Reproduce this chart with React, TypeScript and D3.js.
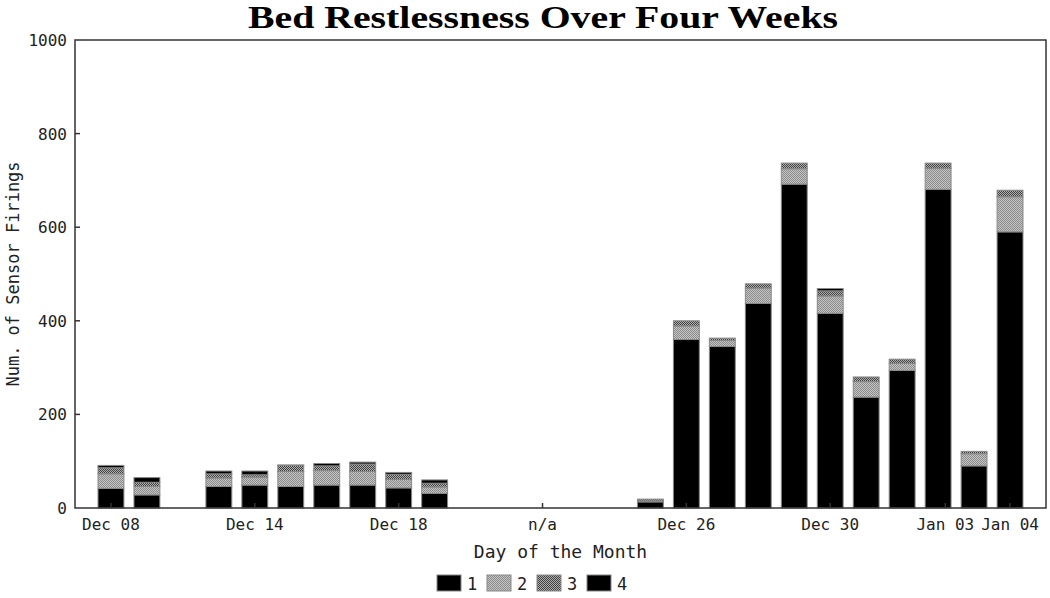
import React from "react";
import * as d3 from "d3";

const slotIndex = [0, 1, 3, 4, 5, 6, 7, 8, 9, 15, 16, 17, 18, 19, 20, 21, 22, 23, 24, 25];
const series1 = [42, 28, 46, 49, 46, 49, 49, 43, 31, 13, 360, 345, 437, 692, 416, 237, 294, 681, 90, 590];
const series2 = [31, 18, 18, 17, 32, 31, 29, 18, 14, 2, 29, 13, 33, 33, 37, 33, 15, 45, 26, 75];
const series3 = [13, 9, 9, 5, 13, 10, 16, 11, 8, 4, 11, 5, 9, 12, 11, 10, 9, 11, 5, 14];
const series4 = [5, 10, 6, 8, 1, 5, 4, 4, 7, 0, 0, 0, 0, 0, 5, 0, 0, 0, 0, 0];
const seriesNames = ["1", "2", "3", "4"];
const xTickPos = [0, 4, 8, 12, 16, 20, 23.2, 25];
const xTickLabels = ["Dec 08", "Dec 14", "Dec 18", "n/a", "Dec 26", "Dec 30", "Jan 03", "Jan 04"];
const yTicks = [0, 200, 400, 600, 800, 1000];

const W = 1050, H = 598;
const L = 75, R = 1046, T = 40, B = 508;
const fills = ["#000", "url(#p2)", "url(#p3)", "#000"];

export default function App() {
  const x = d3.scaleLinear().domain([-1, 26]).range([L, R]);
  const y = d3.scaleLinear().domain([0, 1000]).range([B, T]);
  const step = x(1) - x(0);
  const bw = step * 0.72;
  const rows = slotIndex.map((s, i) => ({ s, v: [series1[i], series2[i], series3[i], series4[i]] }));
  const stacked = d3.stack<any>().keys([0, 1, 2, 3] as any).value((d: any, k: any) => d.v[k])(rows as any);
  const mono = "'DejaVu Sans Mono', monospace";
  const axisColor = "#333";
  return (
    <svg width={W} height={H} style={{ position: "absolute", left: 0, top: 0, background: "#fff" }}>
      <defs>
        <pattern id="p2" width="2" height="2" patternUnits="userSpaceOnUse">
          <rect width="2" height="2" fill="#c4c4c4" />
          <rect width="1" height="1" fill="#8c8c8c" />
          <rect x="1" y="1" width="1" height="1" fill="#8c8c8c" />
        </pattern>
        <pattern id="p3" width="2" height="2" patternUnits="userSpaceOnUse">
          <rect width="2" height="2" fill="#b0b0b0" />
          <rect width="1" height="1" fill="#404040" />
          <rect x="1" y="1" width="1" height="1" fill="#404040" />
        </pattern>
      </defs>
      <text x={543} y={28} textAnchor="middle" fontFamily="'Liberation Serif', serif" fontWeight="bold" fontSize={31} textLength={590} lengthAdjust="spacingAndGlyphs">
        Bed Restlessness Over Four Weeks
      </text>
      {stacked.map((layer, k) => (
        <g key={k}>
          {layer.map((d: any, i: number) => {
            const h = y(d[0]) - y(d[1]);
            if (h <= 0) return null;
            return (
              <rect key={i} x={x(d.data.s) - bw / 2} y={y(d[1])} width={bw} height={h} fill={fills[k]} stroke="#888" strokeWidth={1} />
            );
          })}
        </g>
      ))}
      <rect x={L} y={T} width={R - L} height={B - T} fill="none" stroke={axisColor} strokeWidth={1.5} />
      {yTicks.map((t) => (
        <g key={t}>
          {t > 0 && t < 1000 && <line x1={L} x2={L + 5} y1={y(t)} y2={y(t)} stroke={axisColor} strokeWidth={1.5} />}
          <text x={67} y={y(t) + 6} textAnchor="end" fontFamily={mono} fontSize={16} fill="#222">{t}</text>
        </g>
      ))}
      {xTickPos.map((p, i) => (
        <g key={i}>
          <line x1={x(p)} x2={x(p)} y1={B} y2={B - 5} stroke={axisColor} strokeWidth={1.5} />
          <text x={x(p)} y={530} textAnchor="middle" fontFamily={mono} fontSize={16} fill="#222">{xTickLabels[i]}</text>
        </g>
      ))}
      <text x={(L + R) / 2} y={558} textAnchor="middle" fontFamily={mono} fontSize={18} fill="#222">Day of the Month</text>
      <text transform={`translate(19,${(T + B) / 2}) rotate(-90)`} textAnchor="middle" fontFamily={mono} fontSize={17} fill="#222">Num. of Sensor Firings</text>
      {seriesNames.map((n, i) => (
        <g key={n} transform={`translate(${437 + i * 50},575)`}>
          <rect x={0} y={0} width={24} height={16} fill={fills[i]} stroke="#888" strokeWidth={1} />
          <text x={30} y={15} fontFamily={mono} fontSize={17} fill="#222">{n}</text>
        </g>
      ))}
    </svg>
  );
}
